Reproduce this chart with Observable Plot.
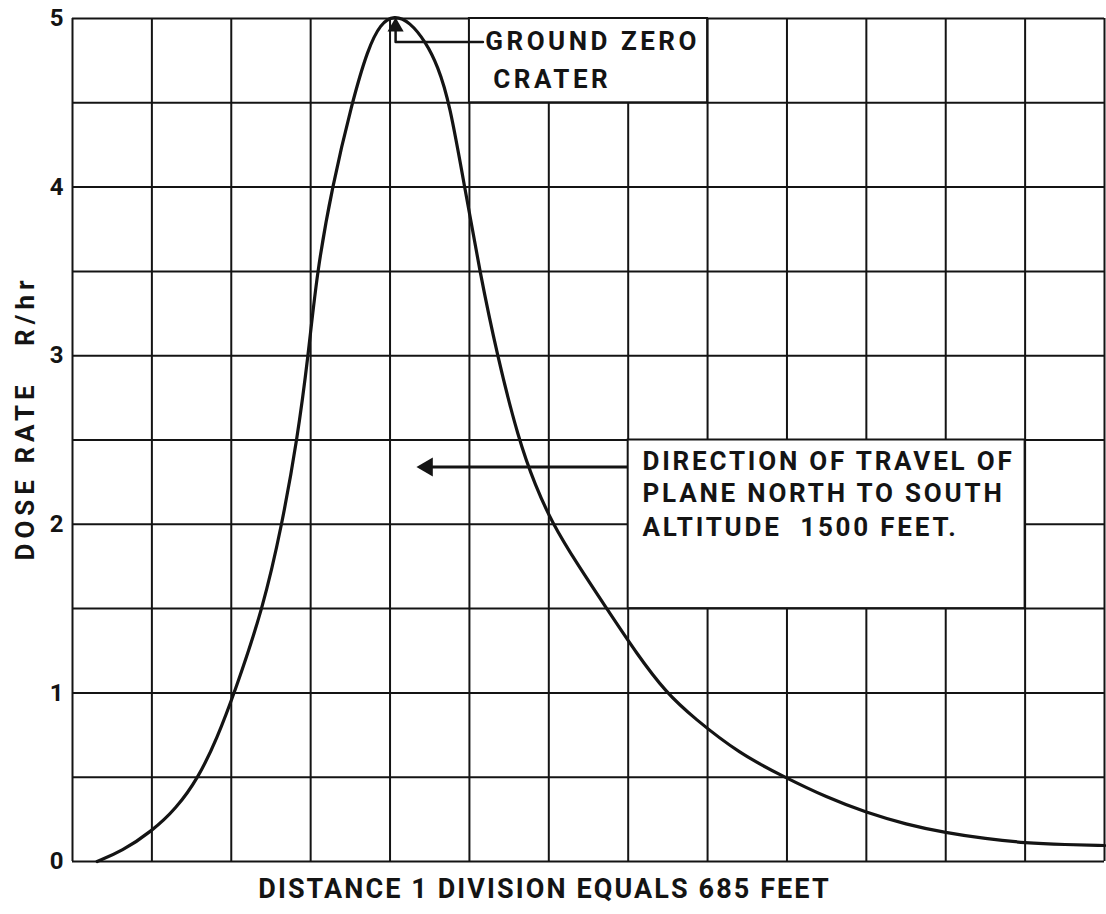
<!DOCTYPE html>
<html><head><meta charset="utf-8">
<script src="https://cdn.jsdelivr.net/npm/d3@7"></script>
<script src="https://cdn.jsdelivr.net/npm/@observablehq/plot@0.6"></script>
<style>
html,body{margin:0;padding:0;background:#fff;}
svg text{white-space:pre;}
</style></head><body><div id="chart"></div>
<script>
// Grid divisions (1 division = 685 feet) and dose-rate grid levels
const divisions = [0,1,2,3,4,5,6,7,8,9,10,11,12,13];
const doseLevels = [0,0.5,1,1.5,2,2.5,3,3.5,4,4.5,5];
const tickValues = [0,1,2,3,4,5];

// Curve: distance (divisions) vs dose rate (R/hr)
const distance = [0.31,0.62,1.0,1.3,1.59,1.82,2.04,2.40,2.64,2.83,2.97,3.08,3.27,3.52,3.72,3.88,4.05,4.25,4.45,4.6,4.75,4.94,5.13,5.35,5.62,5.83,6.04,6.35,6.73,7.11,7.48,7.83,8.4,8.97,9.5,10,10.5,11,11.5,12,12.5,13];
const doseRate = [0,0.06,0.18,0.31,0.5,0.73,1.0,1.5,2.0,2.5,3.0,3.5,4.0,4.5,4.82,4.97,5.02,4.98,4.86,4.72,4.5,4.0,3.5,3.0,2.5,2.23,2.01,1.77,1.5,1.23,1.0,0.85,0.64,0.5,0.38,0.29,0.22,0.17,0.135,0.11,0.1,0.095];

// Texts
const xLabel = "DISTANCE 1 DIVISION EQUALS 685 FEET";
const yLabel = "DOSE RATE   R/hr";
const groundZeroLines = ["GROUND ZERO", "CRATER"];
const directionLines = ["DIRECTION OF TRAVEL OF", "PLANE NORTH TO SOUTH", "ALTITUDE  1500 FEET."];

// Annotation boxes (in grid units)
const groundZeroBox = {x1:5, x2:8, y1:4.5, y2:5};
const directionBox = {x1:7, x2:12, y1:1.5, y2:2.5};

const peakIndex = doseRate.indexOf(d3.max(doseRate));
const peakX = distance[peakIndex];

const data = distance.map((d,i)=>({distance:d, dose:doseRate[i]}));
const ink = "#141414";
const font = "Roboto, 'Liberation Sans', sans-serif";

const leaderY = 4.86;
const arrowY = 2.34;

const chart = Plot.plot({
  width: 1106,
  height: 914,
  marginLeft: 72,
  marginRight: 2,
  marginTop: 18,
  marginBottom: 53,
  x: {domain:[0,13], axis:null},
  y: {domain:[0,5], axis:null},
  style: {background:"#fff", fontFamily: font, color: ink},
  marks: [
    Plot.ruleX(divisions, {y1:0, y2:5, stroke: ink, strokeWidth:2}),
    Plot.ruleY(doseLevels, {x1:0, x2:13, stroke: ink, strokeWidth:2}),
    Plot.rect([groundZeroBox], {x1:"x1", x2:"x2", y1:"y1", y2:"y2", fill:"#fff", stroke: ink, strokeWidth:2}),
    Plot.rect([directionBox], {x1:"x1", x2:"x2", y1:"y1", y2:"y2", fill:"#fff", stroke: ink, strokeWidth:2}),
    Plot.line(data, {x:"distance", y:"dose", curve:"basis", stroke: ink, strokeWidth:3.2}),
    // Ground zero leader
    Plot.line([{x:groundZeroBox.x1+0.17, y:leaderY},{x:peakX+0.02, y:leaderY},{x:peakX+0.02, y:4.93}], {x:"x", y:"y", stroke: ink, strokeWidth:2.5}),
    Plot.dot([{x:peakX+0.02, y:4.95}], {x:"x", y:"y", symbol:"triangle", r:6, fill: ink, stroke:"none"}),
    // Direction arrow
    Plot.ruleY([arrowY], {x1:4.5, x2:directionBox.x1, stroke: ink, strokeWidth:3}),
    Plot.dot([{x:4.47, y:arrowY}], {x:"x", y:"y", symbol:"triangle", rotate:-90, r:7, fill: ink, stroke:"none"}),
    // Annotation texts
    Plot.text([groundZeroLines[0]], {x:5.2, y:leaderY, text:d=>d, textAnchor:"start", fontSize:26, fontWeight:"bold", fill: ink}),
    Plot.text([groundZeroLines[1]], {x:5.3, y:4.64, text:d=>d, textAnchor:"start", fontSize:26, fontWeight:"bold", fill: ink}),
    Plot.text(directionLines, {x:7.18, y:(d,i)=>[2.37,2.18,1.98][i], text:d=>d, textAnchor:"start", fontSize:26, fontWeight:"bold", fill: ink}),
    // Y tick labels
    Plot.text(tickValues, {x:0, y:d=>d, text:d=>String(d), textAnchor:"end", dx:-9, fontSize:24, fontWeight:"bold", fill: ink}),
    // Axis labels
    Plot.text([yLabel], {frameAnchor:"left", rotate:-90, dx:-47, dy:-22, textAnchor:"middle", lineAnchor:"middle", text:d=>d, fontSize:26, fontWeight:"bold", fill: ink}),
    Plot.text([xLabel], {frameAnchor:"bottom", dx:-44, dy:28, textAnchor:"middle", lineAnchor:"middle", text:d=>d, fontSize:27, fontWeight:"bold", fill: ink})
  ]
});

// letter spacing per text mark (in mark order), imitating the stencil lettering
const spacings = [3.5, 3.5, 2.8, 0, 5, 2.1];
d3.select(chart).selectAll('g[aria-label="text"]').each(function(_, i){
  if (spacings[i]) d3.select(this).attr("letter-spacing", spacings[i]);
});
document.getElementById("chart").appendChild(chart);
</script></body></html>
